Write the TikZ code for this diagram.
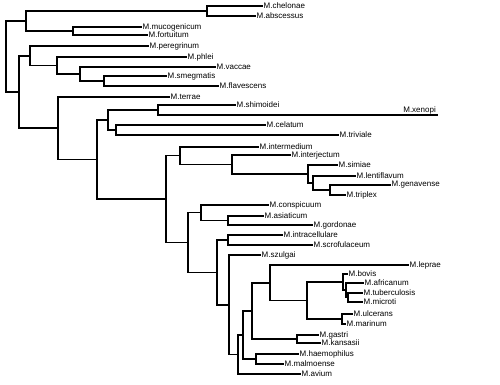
\documentclass[tikz,border=0pt]{standalone}
\usepackage{fontspec}
\setmainfont{Liberation Sans}
\begin{document}
\begin{tikzpicture}[x=1pt,y=-1pt,
  branch/.style={line width=1.05pt,line cap=rect},
  vbranch/.style={line width=1.7pt,line cap=rect},
  leaflab/.style={anchor=west,inner sep=1.5pt,font=\fontsize{8}{9}\selectfont}]
\useasboundingbox[fill=white] (0,0) rectangle (500,385);
% leaves (line ends)
\coordinate (chelonae) at (262,6);
\coordinate (abscessus) at (255,16);
\coordinate (mucogenicum) at (141,27);
\coordinate (fortuitum) at (147,35);
\coordinate (peregrinum) at (148,46);
\coordinate (phlei) at (186,57);
\coordinate (vaccae) at (215,67);
\coordinate (smegmatis) at (166,76);
\coordinate (flavescens) at (218,86);
\coordinate (terrae) at (169,97);
\coordinate (shimoidei) at (235,105);
\coordinate (xenopi) at (437,115);
\coordinate (celatum) at (265,125);
\coordinate (triviale) at (338,135);
\coordinate (intermedium) at (258,147);
\coordinate (interjectum) at (290,155);
\coordinate (simiae) at (337,165);
\coordinate (lentiflavum) at (355,176);
\coordinate (genavense) at (390,185);
\coordinate (triplex) at (345,195);
\coordinate (conspicuum) at (268,205);
\coordinate (asiaticum) at (263,216);
\coordinate (gordonae) at (312,225);
\coordinate (intracellulare) at (282,235);
\coordinate (scrofulaceum) at (312,245);
\coordinate (szulgai) at (260,255);
\coordinate (leprae) at (408,265);
\coordinate (bovis) at (347,274);
\coordinate (africanum) at (363,283);
\coordinate (tuberculosis) at (362,293);
\coordinate (microti) at (362,302);
\coordinate (ulcerans) at (352,314);
\coordinate (marinum) at (345,324);
\coordinate (gastri) at (318,335);
\coordinate (kansasii) at (320,343);
\coordinate (haemophilus) at (298,354);
\coordinate (malmoense) at (283,364);
\coordinate (avium) at (300,374);
% internal nodes
\coordinate (cheab) at (207,11);
\coordinate (mucfor) at (73,31);
\coordinate (nA) at (26,21);
\coordinate (tb3) at (348,297.5);
\coordinate (tb2) at (346,290);
\coordinate (tb1) at (343,282);
\coordinate (ulmar) at (342,319);
\coordinate (tbu) at (307,300.5);
\coordinate (lep) at (270,283);
\coordinate (gaska) at (297,339);
\coordinate (g252) at (252,311);
\coordinate (hama) at (256,359);
\coordinate (g243) at (243,335);
\coordinate (g238) at (238,354.5);
\coordinate (szg) at (229,305);
\coordinate (intscr) at (228,240);
\coordinate (g217) at (217,272.5);
\coordinate (asgor) at (228,220.5);
\coordinate (cong) at (201,212.75);
\coordinate (g188) at (188,242.6);
\coordinate (gentri) at (330,190);
\coordinate (leng) at (313,183);
\coordinate (simg) at (308,174);
\coordinate (jecg) at (232,164.5);
\coordinate (medg) at (180,155.75);
\coordinate (g166) at (166,199);
\coordinate (celtri) at (116,130);
\coordinate (shixen) at (158,110);
\coordinate (g108) at (108,120);
\coordinate (g97) at (97,159.5);
\coordinate (g58) at (58,128);
\coordinate (smefla) at (104,81);
\coordinate (vacg) at (80,74);
\coordinate (phlg) at (57,65.5);
\coordinate (perg) at (30,56);
\coordinate (nB) at (19,92);
\coordinate (root) at (6,56.5);
% branches
\foreach \p/\c in {root/nA,root/nB,nA/cheab,nA/mucfor,cheab/chelonae,cheab/abscessus,
  mucfor/mucogenicum,mucfor/fortuitum,nB/perg,nB/g58,perg/peregrinum,perg/phlg,
  phlg/phlei,phlg/vacg,vacg/vaccae,vacg/smefla,smefla/smegmatis,smefla/flavescens,
  g58/terrae,g58/g97,g97/g108,g97/g166,g108/shixen,g108/celtri,shixen/shimoidei,
  shixen/xenopi,celtri/celatum,celtri/triviale,g166/medg,g166/g188,medg/intermedium,
  medg/jecg,jecg/interjectum,jecg/simg,simg/simiae,simg/leng,leng/lentiflavum,
  leng/gentri,gentri/genavense,gentri/triplex,g188/cong,g188/g217,cong/conspicuum,
  cong/asgor,asgor/asiaticum,asgor/gordonae,g217/intscr,g217/szg,
  intscr/intracellulare,intscr/scrofulaceum,szg/szulgai,szg/g238,g238/g243,
  g238/avium,g243/g252,g243/hama,g252/lep,g252/gaska,lep/leprae,lep/tbu,tbu/tb1,
  tbu/ulmar,tb1/bovis,tb1/tb2,tb2/africanum,tb2/tb3,tb3/tuberculosis,tb3/microti,
  ulmar/ulcerans,ulmar/marinum,gaska/gastri,gaska/kansasii,hama/haemophilus,
  hama/malmoense}
  {\draw[branch] (\p) |- (\c);
   \draw[vbranch] (\p) -- (\p |- \c);}
% labels
\foreach \n in {chelonae,abscessus,mucogenicum,fortuitum,peregrinum,phlei,vaccae,
  smegmatis,flavescens,terrae,shimoidei,celatum,triviale,intermedium,interjectum,
  simiae,lentiflavum,genavense,triplex,conspicuum,asiaticum,gordonae,intracellulare,
  scrofulaceum,szulgai,leprae,bovis,africanum,tuberculosis,microti,ulcerans,marinum,
  gastri,kansasii,haemophilus,malmoense,avium}
  \node[leaflab] (l\n) at (\n) {M.\n};
\node[leaflab,anchor=south east,inner sep=1pt] (lxenopi) at (xenopi) {M.xenopi};
\end{tikzpicture}
\end{document}
